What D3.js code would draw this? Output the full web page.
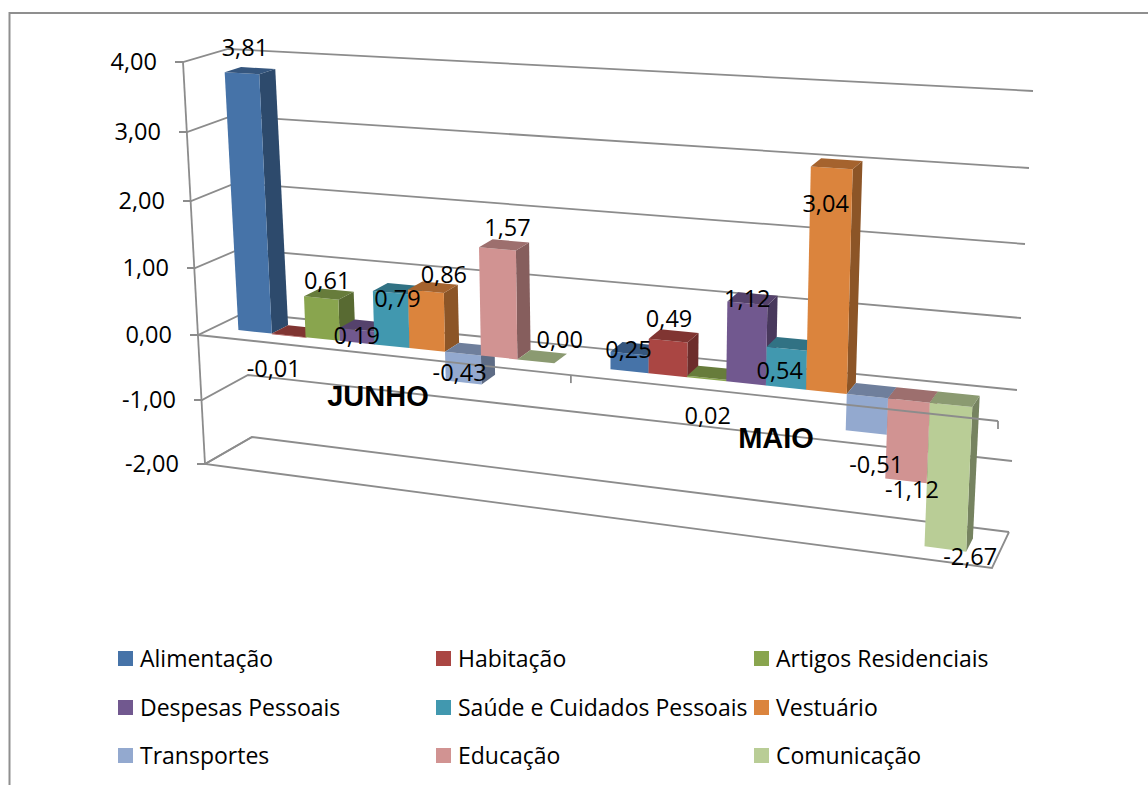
<!DOCTYPE html>
<html lang="pt">
<head>
<meta charset="UTF-8">
<title>Variação por grupo - Junho e Maio</title>
<script src="https://d3js.org/d3.v7.min.js"></script>
<style>
    html, body { margin: 0; padding: 0; background: #fff; overflow: hidden; }
    svg { display: block; font-family: "Open Sans", "Noto Sans", sans-serif; }
</style>
</head>
<body>
<svg id="chart" width="1148" height="785"></svg>
<script>
// chart data
const categories = ["JUNHO", "MAIO"];
const seriesNames = ["Alimentação", "Habitação", "Artigos Residenciais", "Despesas Pessoais",
    "Saúde e Cuidados Pessoais", "Vestuário", "Transportes", "Educação", "Comunicação"];
const junho = [3.81, -0.01, 0.61, 0.19, 0.79, 0.86, -0.43, 1.57, 0.00];
const maio = [0.25, 0.49, 0.02, 1.12, 0.54, 3.04, -0.51, -1.12, -2.67];
const yTicks = [-2, -1, 0, 1, 2, 3, 4];
const colors = ["#4673a8", "#aa4643", "#89a54e", "#71588f", "#4198af", "#db843d", "#93a9cf", "#d19392", "#b9cd96"];

// the 3d box: each vertical edge of the box gets its own scales, because of the perspective
const edgeY = {
    frontLeft: [464, 400, 335, 268, 201, 132, 62],
    frontRight: [568, 495, 421, 346, 270, 192, 112],
    backLeft: [437, 375, 313, 249, 183, 116, 49],
    backRight: [532, 461, 390, 318, 244, 168, 91]
};
const edgeX = {
    frontLeft: [205, 202, 198, 195, 191, 187, 183],
    frontRight: [992, 995, 998, 1001, 1004, 1007, 1010],
    backLeft: [252, 248, 244, 240, 236, 232, 228],
    backRight: [1009, 1012, 1017, 1021, 1025, 1029, 1033]
};
const edges = {};
Object.keys(edgeY).forEach(k => {
    edges[k] = {
        x: d3.scaleLinear().domain(yTicks).range(edgeX[k]).clamp(true),
        y: d3.scaleLinear().domain(yTicks).range(edgeY[k]).clamp(true)
    };
});

const perspective = -0.127;
const depthFront = 0.34, depthBack = 0.71;

// u along the category axis (0..1), d into the depth (0..1), v the value
function project(u, d, v) {
    const w = (1 + perspective) * u / (1 + perspective * u);
    const lx = d3.interpolateNumber(edges.frontLeft.x(v), edges.backLeft.x(v))(d);
    const ly = d3.interpolateNumber(edges.frontLeft.y(v), edges.backLeft.y(v))(d);
    const rx = d3.interpolateNumber(edges.frontRight.x(v), edges.backRight.x(v))(d);
    const ry = d3.interpolateNumber(edges.frontRight.y(v), edges.backRight.y(v))(d);
    return [lx + (rx - lx) * w, ly + (ry - ly) * w];
}

const xCat = d3.scaleBand().domain(categories).range([0, 1]);
const xSeries = d3.scaleBand().domain(seriesNames).range([0, xCat.bandwidth()]).paddingInner(0).paddingOuter(0.75);

const svg = d3.select("#chart");
const gridColor = "#8c8c8c";
const line = d3.line();

// chart frame, cut off by the screenshot on the right and at the bottom
svg.append("path")
    .attr("d", "M9.5,785V13H1148")
    .attr("fill", "none").attr("stroke", "#8f8f8f").attr("stroke-width", 2);

// walls and floor
const grid = svg.append("g").attr("fill", "none").attr("stroke", gridColor).attr("stroke-width", 1.8);
yTicks.forEach(v => {
    const fl = project(0, 0, v), bl = project(0, 1, v), br = project(1, 1, v);
    grid.append("path").attr("d", line([[fl[0] - 8, fl[1]], fl, bl, br]));
});
grid.append("path").attr("d", line([project(0, 1, -2), project(0, 0, -2), project(1, 0, -2), project(1, 1, -2)]));

// bars, left to right so the nearer ones paint over the others
const rows = [];
categories.forEach((c, ci) => {
    const values = ci === 0 ? junho : maio;
    seriesNames.forEach((s, i) => rows.push({ c, s, i, v: values[i] }));
});
const barG = svg.append("g");
rows.forEach(r => {
    const u0 = xCat(r.c) + xSeries(r.s), u1 = u0 + xSeries.bandwidth();
    const top = Math.max(r.v, 0), bottom = Math.min(r.v, 0);
    const col = d3.color(colors[r.i]);
    const face = (pts, fill) => barG.append("path").attr("d", line(pts) + "Z").attr("fill", fill);
    // side
    face([project(u1, depthFront, top), project(u1, depthBack, top), project(u1, depthBack, bottom), project(u1, depthFront, bottom)], col.darker(1.25));
    // front
    face([project(u0, depthFront, top), project(u1, depthFront, top), project(u1, depthFront, bottom), project(u0, depthFront, bottom)], col);
    // top
    face([project(u0, depthFront, top), project(u1, depthFront, top), project(u1, depthBack, top), project(u0, depthBack, top)], col.darker(0.8));
});

// zero line goes in front of the negative bars, with its tick marks
const axisG = svg.append("g").attr("fill", "none").attr("stroke", gridColor).attr("stroke-width", 1.8);
axisG.append("path").attr("d", line([project(0, 0, 0), project(1, 0, 0)]));
[0.5, 1].forEach(u => {
    const p = project(u, 0, 0);
    axisG.append("path").attr("d", line([p, [p[0], p[1] + 8]]));
});
axisG.append("path").attr("d", line([project(0, 0, 4), project(0, 0, -2)]));

// value axis labels
const fmt = v => d3.format(".2f")(v).replace(".", ",").replace("−", "-");
svg.append("g").selectAll("text").data(yTicks).join("text")
    .attr("x", v => project(0, 0, v)[0] - 26)
    .attr("y", v => project(0, 0, v)[1])
    .attr("dy", "0.35em")
    .attr("text-anchor", "end")
    .attr("font-size", 23.5)
    .attr("fill", "#000")
    .text(fmt);

// data labels: Excel left them scattered, so each one has its own nudge off the bar end
const nudgeJunho = [[3, -25], [-15, 33], [6, -17], [0, 6], [7, 6], [18, -17], [-4, -10], [10, -21], [24, -22]];
const nudgeMaio = [[-1, -4], [1, -22], [1, 38], [0, -5], [-7, 22], [-6, 36], [10, 32], [6, 9], [25, 8]];
const labelPos = r => {
    const nudge = (r.c === "JUNHO" ? nudgeJunho : nudgeMaio)[r.i];
    const p = project(xCat(r.c) + xSeries(r.s) + xSeries.bandwidth() / 2, depthFront, r.v);
    return [p[0] + nudge[0], p[1] + nudge[1]];
};
svg.append("g").selectAll("text").data(rows).join("text")
    .attr("x", r => labelPos(r)[0])
    .attr("y", r => labelPos(r)[1])
    .attr("dy", "0.35em")
    .attr("text-anchor", "middle")
    .attr("font-size", 23.5)
    .attr("fill", "#000")
    .text(r => fmt(r.v));

// category labels
svg.append("g").selectAll("text").data(categories).join("text")
    .attr("x", (c, i) => [378, 776][i])
    .attr("y", (c, i) => [396, 438][i])
    .attr("dy", "0.36em")
    .attr("text-anchor", "middle")
    .attr("font-family", "'Liberation Sans', Arial, sans-serif")
    .attr("font-weight", "bold")
    .attr("font-size", 29)
    .attr("fill", "#000")
    .text(c => c);

// legend, 3 columns
const legendX = d3.scaleOrdinal().domain([0, 1, 2]).range([118, 436, 754]);
const legendY = d3.scaleOrdinal().domain([0, 1, 2]).range([651, 700, 748]);
const legend = svg.append("g").selectAll("g").data(seriesNames).join("g")
    .attr("transform", (s, i) => `translate(${legendX(i % 3)},${legendY(Math.floor(i / 3))})`);
legend.append("rect").attr("width", 15).attr("height", 15).attr("fill", (s, i) => colors[i]);
legend.append("text")
    .attr("x", 22).attr("y", 8).attr("dy", "0.35em")
    .attr("font-size", 23)
    .attr("fill", "#000")
    .text(s => s);
</script>
</body>
</html>
